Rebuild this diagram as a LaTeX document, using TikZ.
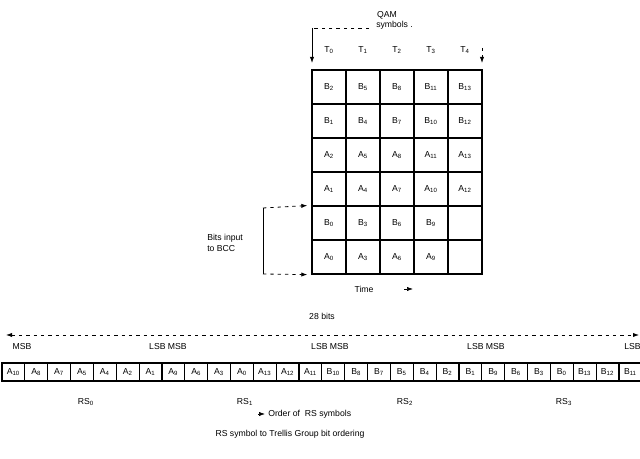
\documentclass[tikz,border=0pt]{standalone}
\usepackage{fontspec}
\setmainfont{Liberation Sans}
\usetikzlibrary{arrows.meta}

\begin{document}
\begin{tikzpicture}[x=0.75pt,y=-0.75pt,
  font=\fontsize{6.5}{7.8}\selectfont,
  tip/.style={-{Latex[length=4.5pt,width=3.2pt]}},
  dashln/.style={dash pattern=on 2.5pt off 3pt, line width=0.6pt},
  qamcell/.style={draw, line width=1pt, minimum width=25.5pt, minimum height=25.5pt, inner sep=0pt},
  bitbox/.style={draw, line width=0.8pt, minimum width=17.1pt, minimum height=13.5pt, inner sep=0pt},
  lbl/.style={inner sep=0pt}]
\useasboundingbox (0,0) rectangle (640,459);

% ---- QAM symbol grid: 6 rows x 5 time slots ----
\foreach \row [count=\j] in {
    {B/2,B/5,B/8,B/11,B/13},
    {B/1,B/4,B/7,B/10,B/12},
    {A/2,A/5,A/8,A/11,A/13},
    {A/1,A/4,A/7,A/10,A/12},
    {B/0,B/3,B/6,B/9,{}/{}},
    {A/0,A/3,A/6,A/9,{}/{}}} {
  \foreach \L/\n [count=\i] in \row {
    \node[qamcell] (c-\j-\i) at ({312+34*(\i-0.5)},{70+34*(\j-0.5)}) {\L\textsubscript{\n}};
  }
}

% time slot headings
\foreach \k [count=\i] in {0,...,4}
  \node[lbl] (t\k) at ({312+34*(\i-0.5)},50) {T\textsubscript{\k}};

% QAM symbols label with its bracket arrows
\node[lbl] (qam) at (387,15) {QAM};
\node[lbl, anchor=west] (sym) at (376,25) {symbols .};
\coordinate (qa) at (312,28);
\coordinate (qb) at (369,28);
\coordinate (qc) at (312,63);
\coordinate (qd) at (482,48);
\coordinate (qe) at (482,63);
\draw[dashln] (qb) -- (qa);
\draw[tip, line width=0.6pt] (qa) -- (qc);
\draw[dashln, tip] (qd) -- (qe);

% bits input to BCC
\node[lbl, anchor=west, align=left] (bits) at (207,243) {Bits input\\to BCC};
\coordinate (ba) at (263,208);
\coordinate (bb) at (263,274);
\draw[line width=0.6pt] (ba) -- (bb);
\draw[dashln, tip, shorten >=3pt] (ba) -- (c-5-1.north west);
\draw[dashln, tip, shorten >=3pt] (bb) -- (c-6-1.south west);

% time axis
\node[lbl] (time) at (364,289) {Time};
\coordinate (ta) at (404,289);
\coordinate (tb) at (413,289);
\draw[tip, line width=0.5pt] (ta) -- (tb);

% ---- 28-bit word ----
\node[lbl] (w28) at (322,316) {28 bits};
\coordinate (wl) at (6,335);
\coordinate (wr) at (639,335);
\draw[dashln, {Latex[length=4.5pt,width=3.2pt]}-{Latex[length=4.5pt,width=3.2pt]}] (wl) -- (wr);

\foreach \L/\n [count=\k] in {A/10,A/8,A/7,A/5,A/4,A/2,A/1,A/9,A/6,A/3,A/0,A/13,A/12,A/11,
                              B/10,B/8,B/7,B/5,B/4,B/2,B/1,B/9,B/6,B/3,B/0,B/13,B/12,B/11}
  \node[bitbox] (bx\k) at ({2+22.85*(\k-0.5)},372) {\L\textsubscript{\n}};

% bit significance marks
\node[lbl] (msb0) at (22,347) {MSB};
\node[lbl] (ls1) at (168,347) {LSB MSB};
\node[lbl] (ls2) at (330,347) {LSB MSB};
\node[lbl] (ls3) at (486,347) {LSB MSB};
\node[lbl, anchor=west] (lsb4) at (624,347) {LSB};

% RS symbol groups
\node[lbl] (rs0) at (86,402) {RS\textsubscript{0}};
\node[lbl] (rs1) at (245,402) {RS\textsubscript{1}};
\node[lbl] (rs2) at (405,402) {RS\textsubscript{2}};
\node[lbl] (rs3) at (564,402) {RS\textsubscript{3}};

\node[lbl, anchor=west] (ord) at (268,414) {Order of\ \ RS symbols};
\coordinate (oa) at (258,414);
\coordinate (ob) at (265,414);
\draw[tip, line width=0.5pt] (oa) -- (ob);

\node[lbl] (cap) at (290,434) {RS symbol to Trellis Group bit ordering};
\end{tikzpicture}
\end{document}
